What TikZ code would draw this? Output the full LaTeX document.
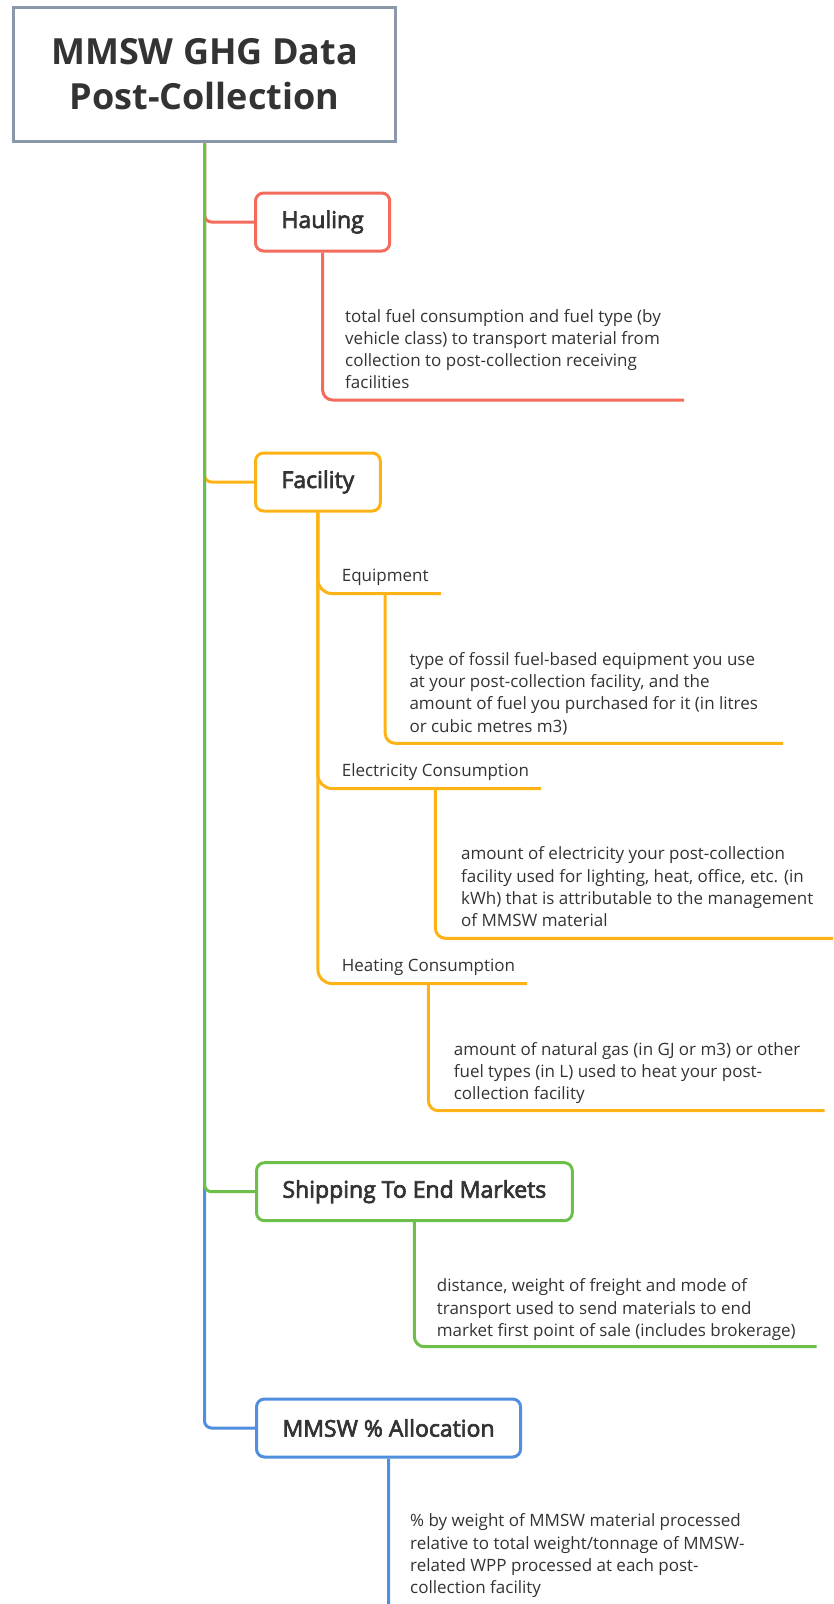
\documentclass[tikz,border=0pt]{standalone}
\usepackage{fontspec}
\setmainfont{Open Sans}
\newfontfamily\topicfont[FakeBold=3]{Open Sans}
\usetikzlibrary{positioning}
\definecolor{cgray}{HTML}{8B98AB}
\definecolor{cred}{HTML}{F36C5B}
\definecolor{corange}{HTML}{FDB316}
\definecolor{cgreen}{HTML}{6CC04A}
\definecolor{cblue}{HTML}{4F8FDE}
\definecolor{ctext}{HTML}{333333}

\begin{document}
\begin{tikzpicture}[x=1pt, y=-1pt,
  root/.style={draw=cgray, line width=3.5pt, minimum width=382pt, minimum height=134pt, align=center, text=ctext, font=\fontsize{36}{45}\selectfont\bfseries},
  topic/.style={draw, rounded corners=8pt, line width=3pt, inner xsep=26pt, minimum height=58pt, anchor=west, text=ctext, font=\fontsize{23}{27}\selectfont\topicfont},
  sub/.style={inner xsep=12pt, inner ysep=0pt, text depth=11.6pt, anchor=base west, text=ctext, font=\fontsize{17}{22}\selectfont},
  desc/.style={inner sep=0pt, anchor=base west, align=left, text=ctext, font=\fontsize{17}{22.3}\selectfont},
  link/.style={line width=3pt, rounded corners=7pt},
  leaf/.style={line width=3pt, rounded corners=10pt}
]
  \useasboundingbox (0,0) rectangle (833,1604);
  \clip (0,0) rectangle (833,1604);

  \node[root] (root) at (204.5,74.5) {MMSW GHG Data\\Post-Collection};

  \node[topic, draw=cred] (haul) at (254,222) {Hauling};
  \node[topic, draw=corange] (fac) at (254,482) {Facility};
  \node[topic, draw=cgreen] (ship) at (255,1191.7) {Shipping To End Markets};
  \node[topic, draw=cblue] (mmsw) at (255,1428) {MMSW \% Allocation};

  \node[sub] (equip) at (329.6,581.7) {Equipment};
  \node[sub] (elec) at (329.6,776.7) {Electricity Consumption};
  \node[sub] (heat) at (329.6,971.7) {Heating Consumption};

  % base of a description = baseline of its last line
  \node[desc] (hauldesc) at (345,388.9) {total fuel consumption and fuel type (by\\vehicle class) to transport material from\\collection to post-collection receiving\\facilities};
  \node[desc] (equipdesc) at (409.3,732.2) {type of fossil fuel-based equipment you use\\at your post-collection facility, and the\\amount of fuel you purchased for it (in litres\\or cubic metres m3)};
  \node[desc] (elecdesc) at (461,926.6) {amount of electricity your post-collection\\facility used for lighting, heat, office, etc. (in\\kWh) that is attributable to the management\\of MMSW material};
  \node[desc] (heatdesc) at (453.6,1099.6) {amount of natural gas (in GJ or m3) or other\\fuel types (in L) used to heat your post-\\collection facility};
  \node[desc] (shipdesc) at (436.7,1336.3) {distance, weight of freight and mode of\\transport used to send materials to end\\market first point of sale (includes brokerage)};
  \node[desc] (mmswdesc) at (410,1593.6) {\% by weight of MMSW material processed\\relative to total weight/tonnage of MMSW-\\related WPP processed at each post-\\collection facility};

  \coordinate (haulend) at (684,400);
  \coordinate (equipend) at (783,743.3);
  \coordinate (elecend) at (840,938.3);
  \coordinate (heatend) at (824.7,1110.7);
  \coordinate (shipend) at (816.7,1346.7);
  \coordinate (mmswend) at (760,1625);

  % trunk, green drawn last so it sits on top
  \draw[link, cblue] (root.south) |- (mmsw.west);
  \draw[link, cred] (root.south) |- (haul.west);
  \draw[link, corange] (root.south) |- (fac.west);
  \draw[link, cgreen] (root.south) |- (ship.west);

  \draw[leaf, cred] (haul.south) |- (haulend);

  \draw[link, corange, rounded corners=14pt] (fac.south) |- (heat.south east);
  \draw[link, corange, rounded corners=14pt] (fac.south) |- (elec.south east);
  \draw[link, corange, rounded corners=14pt] (fac.south) |- (equip.south east);
  \draw[leaf, corange] (equip.south) |- (equipend);
  \draw[leaf, corange] (elec.south) |- (elecend);
  \draw[leaf, corange] (heat.south) |- (heatend);

  \draw[leaf, cgreen] (ship.south) |- (shipend);
  \draw[leaf, cblue, rounded corners=16pt] (mmsw.south) |- (mmswend);
\end{tikzpicture}
\end{document}
